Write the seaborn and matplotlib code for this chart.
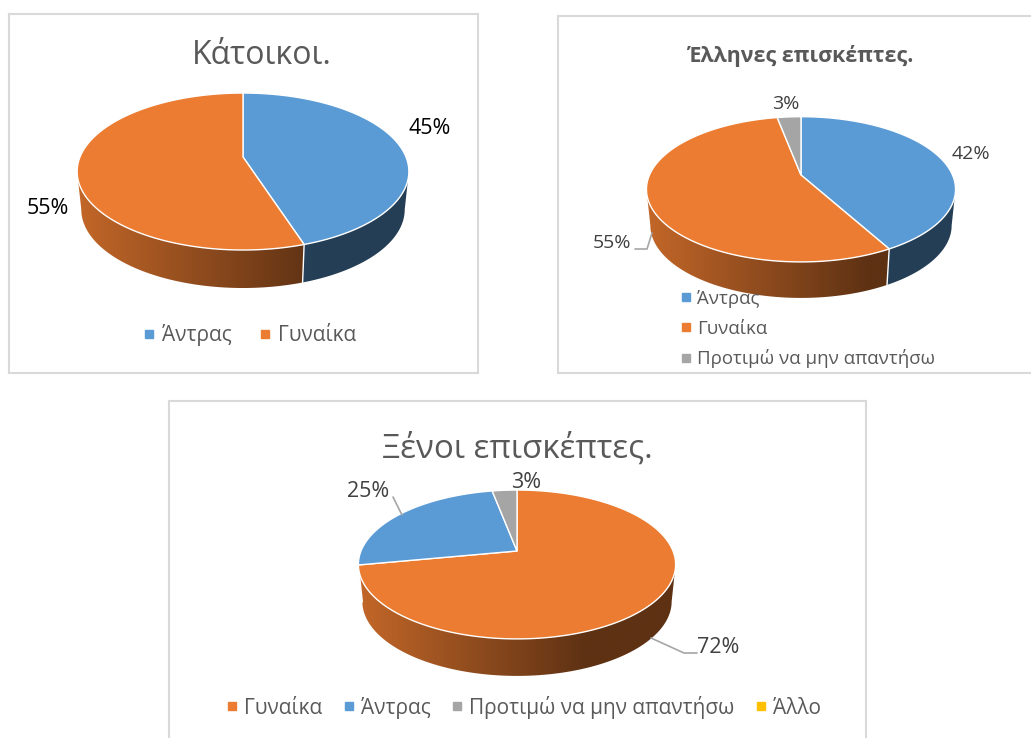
import numpy as np
import matplotlib
matplotlib.use('Agg')
import matplotlib.pyplot as plt
from matplotlib.lines import Line2D
from matplotlib.patches import Polygon
import seaborn as sns

# Data
residents_labels = ['Άντρας', 'Γυναίκα']
residents_values = [45, 55]

greek_labels = ['Άντρας', 'Γυναίκα', 'Προτιμώ να μην απαντήσω']
greek_values = [42, 55, 3]

foreign_labels = ['Γυναίκα', 'Άντρας', 'Προτιμώ να μην απαντήσω', 'Άλλο']
foreign_values = [72, 25, 3, 0]

colors = {'Άντρας': '#5B9BD5', 'Γυναίκα': '#EB7C31',
          'Προτιμώ να μην απαντήσω': '#A5A5A5', 'Άλλο': '#FFC000'}

sns.set_theme(style='white')
plt.rcParams['font.family'] = ['Open Sans', 'Noto Sans', 'DejaVu Sans']

W, H = 1031, 738
fig = plt.figure(figsize=(W / 100, H / 100), dpi=100, facecolor='white')


def project(theta, cx, cy, R, S, k):
    # tilted circle seen in perspective, theta clockwise from the top
    w = 1 + k * np.cos(theta)
    return cx + R * np.sin(theta) / w, cy - S * np.cos(theta) / w


def draw_pie(frame, values, labels, cx, cy, R, S, k, depth, shrink):
    x0, y0, x1, y1 = frame
    ax = fig.add_axes([x0 / W, 1 - y1 / H, (x1 - x0) / W, (y1 - y0) / H])
    ax.set_xticks([])
    ax.set_yticks([])
    for s in ax.spines.values():
        s.set_color('#D9D9D9')
        s.set_linewidth(1.5)

    edges = np.radians(np.cumsum([0] + list(values)) * 3.6)
    front_start = np.arccos(-k)
    front_end = 2 * np.pi - front_start
    half = R / np.sqrt(1 - k ** 2)
    left, right = cx - half, cx + half
    shade = np.interp(np.linspace(0, 1, 256), [0, 0.72, 1], [0.83, 0.40, 0.40])

    # side walls first, the top faces go over them
    for i, label in enumerate(labels):
        a, b = max(edges[i], front_start), min(edges[i + 1], front_end)
        if b <= a:
            continue
        th = np.linspace(a, b, 120)
        px, py = project(th, cx, cy, R, S, k)
        qx = cx + (px - cx) * shrink
        qy = py + depth
        wall = Polygon(np.column_stack([np.r_[px, qx[::-1]], np.r_[py, qy[::-1]]]),
                       closed=True, fc='none', ec='none', transform=ax.transData)
        ax.add_patch(wall)
        rgb = np.array(sns.color_palette([colors[label]])[0])
        grad = shade[None, :, None] * rgb[None, None, :]
        im = ax.imshow(grad, extent=(left, right, y1, y0), aspect='auto', zorder=1,
                       interpolation='bilinear')
        im.set_clip_path(wall)
        if b < front_end:
            ax.plot([px[-1], qx[-1]], [py[-1], qy[-1]], color='white', lw=1, zorder=1.5)

    for i, label in enumerate(labels):
        if values[i] == 0:
            continue
        th = np.linspace(edges[i], edges[i + 1], 200)
        px, py = project(th, cx, cy, R, S, k)
        ax.fill(np.r_[cx, px], np.r_[cy, py], facecolor=colors[label],
                edgecolor='white', linewidth=1, zorder=2)

    ax.set_xlim(x0, x1)
    ax.set_ylim(y1, y0)
    return ax


def add_legend(ax, labels, anchor, ncol, size, **kw):
    handles = [Line2D([], [], linestyle='none', marker='s', markersize=6.2,
                      color=colors[l]) for l in labels]
    leg = ax.legend(handles, labels, loc='center', bbox_to_anchor=anchor,
                    bbox_transform=ax.transData, ncol=ncol, frameon=False,
                    prop={'size': size}, labelcolor='#595959', handlelength=0.5,
                    handletextpad=0.35, borderpad=0, borderaxespad=0, **kw)
    leg.set_zorder(5)


def leader(ax, xs, ys):
    ax.plot(xs, ys, color='#A6A6A6', lw=1.2, zorder=3)


# Κάτοικοι
ax = draw_pie((9, 14, 478, 373), residents_values, residents_labels,
              243, 157, 163, 75.8, 0.185, 38, 0.975)
ax.text(262, 55, 'Κάτοικοι.', fontsize=23, color='#595959', ha='center', va='center')
ax.text(430, 129, '45%', fontsize=15.5, color='black', ha='center', va='center')
ax.text(48, 208, '55%', fontsize=15.5, color='black', ha='center', va='center')
add_legend(ax, residents_labels, (250, 335), 2, 15, columnspacing=1.35)

# Έλληνες επισκέπτες
ax = draw_pie((558, 16, 1045, 373), greek_values, greek_labels,
              801, 175, 151.5, 69.8, 0.197, 36, 0.975)
ax.text(800, 56, 'Έλληνες επισκέπτες.', fontsize=15.4, fontweight='bold',
        color='#595959', ha='center', va='center')
ax.text(971, 154, '42%', fontsize=14, color='#404040', ha='center', va='center')
ax.text(612, 243, '55%', fontsize=14, color='#404040', ha='center', va='center')
ax.text(786, 104, '3%', fontsize=14, color='#404040', ha='center', va='center')
leader(ax, [635, 647, 652], [249, 249, 233])
add_legend(ax, greek_labels, (808, 329), 1, 13.4, labelspacing=0.62)

# Ξένοι επισκέπτες
ax = draw_pie((169, 401, 866, 750), foreign_values, foreign_labels,
              517, 551, 156, 72, 0.181, 37, 0.975)
ax.text(517, 449, 'Ξένοι επισκέπτες.', fontsize=23.8, color='#595959', ha='center', va='center')
ax.text(368, 491, '25%', fontsize=15.5, color='#404040', ha='center', va='center')
ax.text(526, 482, '3%', fontsize=15.5, color='#404040', ha='center', va='center')
ax.text(718, 647, '72%', fontsize=15.5, color='#404040', ha='center', va='center')
leader(ax, [393, 402], [497, 515])
leader(ax, [697, 684, 651], [653, 653, 638])
add_legend(ax, foreign_labels, (524, 707), 4, 15, columnspacing=1.0)

fig.savefig('out.png', dpi=100)
